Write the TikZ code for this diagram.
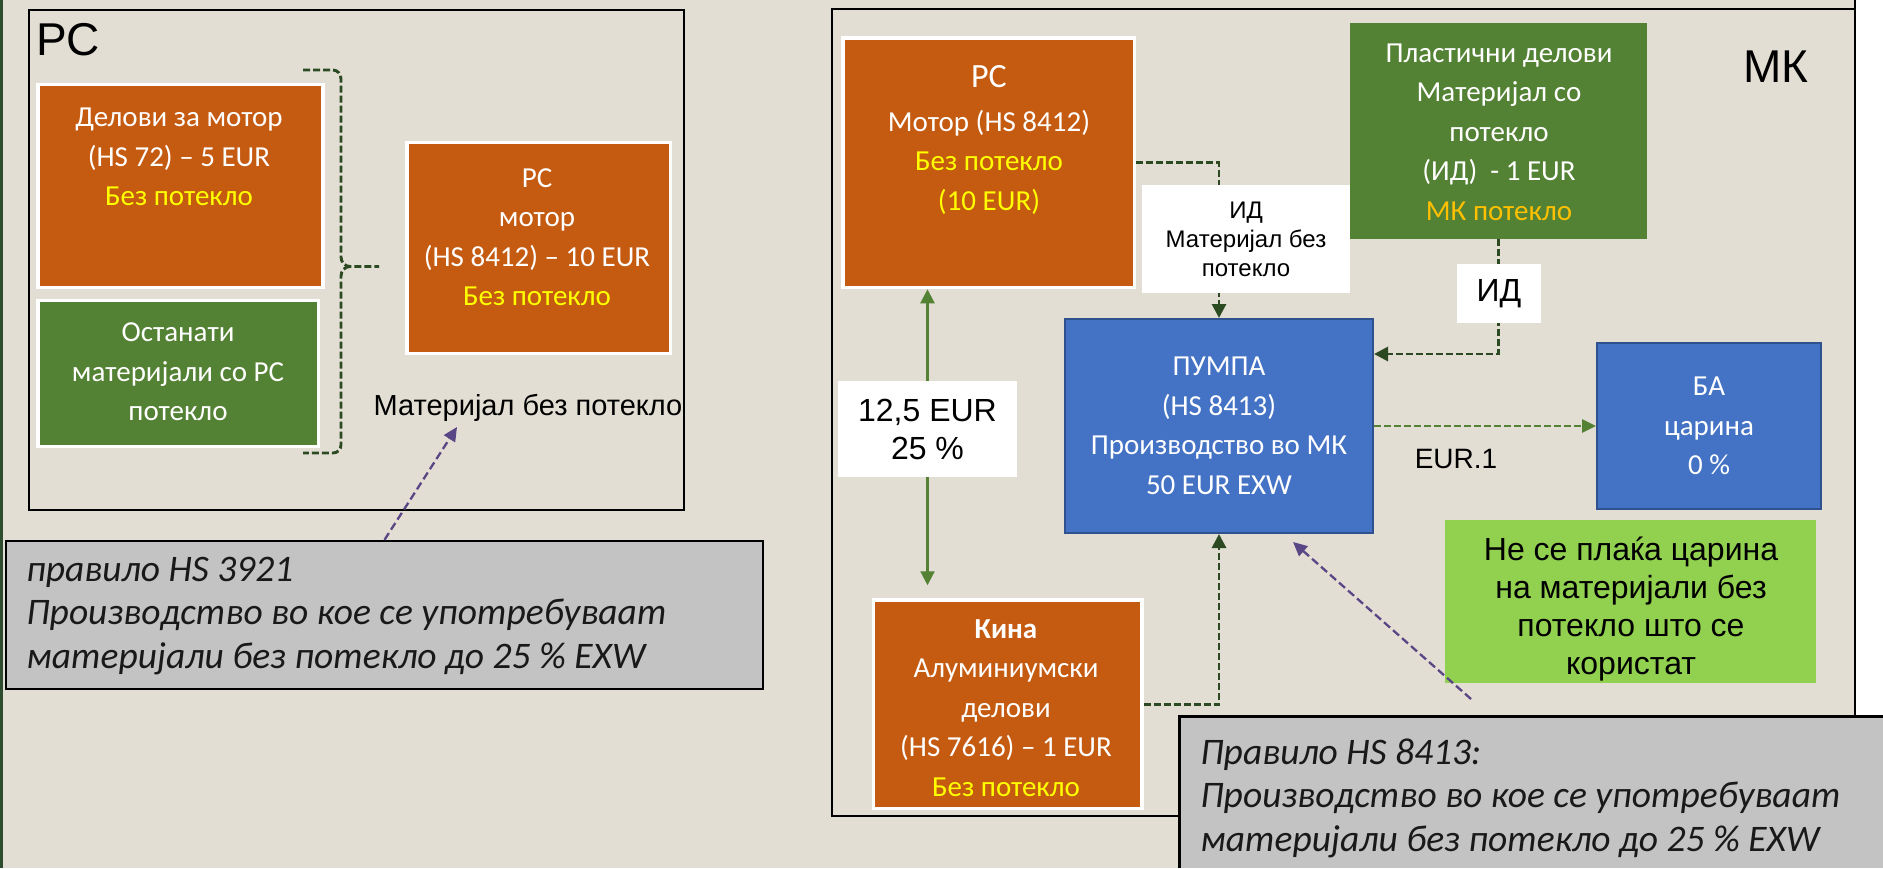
\documentclass[tikz,border=0pt]{standalone}
\usepackage{fontspec}
\setmainfont{Carlito}
\newfontfamily\arialf{Liberation Sans}
\usetikzlibrary{arrows.meta,calc}
\pgfdeclarelayer{back}
\pgfdeclarelayer{conn}
\pgfsetlayers{back,conn,main}
\definecolor{bgc}{HTML}{E3DED4}
\definecolor{orng}{HTML}{C55A11}
\definecolor{grn}{HTML}{548235}
\definecolor{blu}{HTML}{4472C4}
\definecolor{bluB}{HTML}{2F528F}
\definecolor{lgrn}{HTML}{92D050}
\definecolor{gry}{HTML}{C3C3C3}
\definecolor{dgrn}{HTML}{2B4A22}
\definecolor{purp}{HTML}{594785}
\definecolor{ylw}{HTML}{FFFF00}
\definecolor{gold}{HTML}{FFC000}
\definecolor{edgec}{HTML}{2E4D2E}
\tikzset{
  boxtxt/.style={font=\fontsize{14.5}{19.75}\selectfont, text=white, align=center, inner sep=0pt},
  obox/.style={fill=orng, draw=white, line width=1.75pt, inner sep=0pt},
  wgbox/.style={fill=grn, draw=white, line width=1.75pt, inner sep=0pt},
  gbox/.style={fill=grn, draw=none, inner sep=0pt},
  bbox/.style={fill=blu, draw=bluB, line width=1pt, inner sep=0pt},
  wlab/.style={fill=white, draw=none, inner sep=0pt},
  rulebox/.style={fill=gry, draw=black, line width=1.2pt, inner sep=0pt},
  cframe/.style={draw=black, line width=1.2pt, fill=none, inner sep=0pt},
  ruletxt/.style={font=\fontsize{18.75}{21.75}\selectfont\itshape, text=black!90, align=left, inner sep=0pt, anchor=west},
  arialtxt/.style 2 args={font=\arialf\fontsize{#1}{#2}\selectfont, inner sep=0pt, align=center},
  dgline/.style={draw=dgrn, line width=1.45pt, dash pattern=on 3.5pt off 1.5pt},
  dgarrow/.style={dgline, -{Triangle[length=7pt,width=7pt]}},
  gdarrow/.style={draw=grn, line width=1.35pt, dash pattern=on 3.5pt off 1.5pt, -{Triangle[length=7pt,width=6.5pt]}},
  garrow/.style={draw=grn, line width=1.1pt, {Triangle[length=7pt,width=7pt]}-{Triangle[length=7pt,width=7pt]}},
  parrow/.style={draw=purp, line width=1.15pt, dash pattern=on 4pt off 2pt, -{Triangle[length=7pt,width=6.5pt]}}
}
\begin{document}
\begin{tikzpicture}[x=0.5pt,y=-0.5pt]
\useasboundingbox (0,0) rectangle (1883,868);
\begin{pgfonlayer}{back}
  \fill[bgc] (0,0) rectangle (1883,868);
  \fill[white] (1856,0) rectangle (1883,717);
  \draw[edgec, line width=1.5pt] (1.5,0) -- (1.5,868);
  \draw[black, line width=1.2pt] (1855,0) -- (1855,10);
\end{pgfonlayer}

% containers
\node[cframe, minimum width=327.5pt, minimum height=250pt] (pcframe) at (356.5,260) {};
\node[cframe, minimum width=511.5pt, minimum height=403.5pt] (mkframe) at (1343.5,412.5) {};
\node[arialtxt={23}{27}, anchor=base west] (pclab) at (36,55) {РС};
\node[arialtxt={23}{27}, anchor=base west] (mklab) at (1743,82) {МК};

% left side
\node[obox, minimum width=142.5pt, minimum height=101.5pt] (delovi) at (180.5,186) {};
\node[boxtxt] (deloviT) at (179,157) {Делови за мотор\\(HS 72) – 5 EUR\\\textcolor{ylw}{Без потекло}};
\node[wgbox, minimum width=140.25pt, minimum height=73pt] (ostan) at (178.25,373.5) {};
\node[boxtxt] (ostanT) at (178,372) {Останати\\материјали со РС\\потекло};
\node[obox, minimum width=131.75pt, minimum height=105.5pt] (pcmot) at (538.75,248) {};
\node[boxtxt] (pcmotT) at (537,237) {РС\\мотор\\(HS 8412) – 10 EUR\\\textcolor{ylw}{Без потекло}};
\node[arialtxt={14.5}{17}] (matbp) at (528,408) {Материјал без потекло};
\node[rulebox, minimum width=378.5pt, minimum height=74pt] (rule1) at (384.5,615) {};
\node[ruletxt] (rule1T) at (26,616) {правило HS 3921\\Производство во кое се употребуваат\\материјали без потекло до 25 \% EXW};

% right side
\node[obox, minimum width=145.75pt, minimum height=124.75pt] (pcm) at (988.75,162.75) {};
\node[boxtxt] (pcmT) at (989,140) {{\fontsize{17}{19.75}\selectfont РС}\\[2pt]Мотор (HS 8412)\\\textcolor{ylw}{Без потекло}\\\textcolor{ylw}{(10 EUR)}};
\node[wlab, minimum width=104pt, minimum height=54pt, arialtxt={12}{14.5}] (idlab) at (1246,239) {ИД\\Материјал без\\потекло};
\node[gbox, minimum width=148.5pt, minimum height=108pt] (plast) at (1498.5,131) {};
\node[boxtxt] (plastT) at (1499,132) {Пластични делови\\Материјал со\\потекло\\(ИД)\ \ - 1 EUR\\\textcolor{gold}{МК потекло}};
\node[wlab, minimum width=42pt, minimum height=29.5pt, arialtxt={16}{19}] (id2) at (1499,293.5) {ИД};
\node[bbox, minimum width=154pt, minimum height=107pt, boxtxt] (pump) at (1219,426) {ПУМПА\\(HS 8413)\\Производство во МК\\50 EUR EXW};
\node[bbox, minimum width=112pt, minimum height=83pt, boxtxt] (ba) at (1709,426) {БА\\царина\\0 \%};
\node[wlab, minimum width=89.5pt, minimum height=48pt, arialtxt={16}{19}] (eur12) at (927.5,429) {12,5 EUR\\25 \%};
\node[obox, minimum width=134.25pt, minimum height=104.25pt] (kina) at (1007.75,704.25) {};
\node[boxtxt] (kinaT) at (1006,708) {\textbf{Кина}\\Алуминиумски\\делови\\(HS 7616) – 1 EUR\\\textcolor{ylw}{Без потекло}};
\node[arialtxt={14}{16}] (eur1) at (1456,459) {EUR.1};
\node[fill=lgrn, inner sep=0pt, minimum width=185.5pt, minimum height=81.5pt] (lgr) at (1630.5,601.5) {};
\node[arialtxt={16}{19}] (lgrT) at (1631,609.5) {Не се плаќа царина\\на материјали без\\потекло што се\\користат};
\node[fill=gry, inner sep=0pt, minimum width=351.5pt, minimum height=75.5pt] (rule2) at (1531.5,792.5) {};
\draw[black, line width=1.2pt] (rule2.south west) -- (rule2.north west) -- (rule2.north east);
\node[ruletxt] (rule2T) at (1200,798) {Правило HS 8413:\\Производство во кое се употребуваат\\материјали без потекло до 25 \% EXW};

% connectors
\begin{pgfonlayer}{conn}
  \draw[dgline] (303,70) -- (333,70) to[out=0,in=90] (341,79) -- (341,257) to[out=-90,in=180] (350,266.5) -- (379,266.5);
  \draw[dgline] (350,266.5) to[out=180,in=90] (341,276) -- (341,445) to[out=-90,in=0] (333,453) -- (303,453);
  \draw[dgarrow] (pcm.east) -| (pump.north);
  \draw[dgarrow] (plast.south) |- ([yshift=36pt]pump.east);
  \draw[dgarrow] (kina.east) -| (pump.south);
  \draw[gdarrow] (pump.east) -- (ba.west);
  \draw[garrow, shorten >=6.5pt] (eur12.center |- pcm.south) -- (eur12.center |- kina.north);
\end{pgfonlayer}

\coordinate (p1) at (457,427);
\draw[parrow] (rule1.north) -- (p1);
\coordinate (p2s) at (1471,699);
\coordinate (p2) at (1293,542);
\draw[parrow] (p2s) -- (p2);
\end{tikzpicture}
\end{document}
